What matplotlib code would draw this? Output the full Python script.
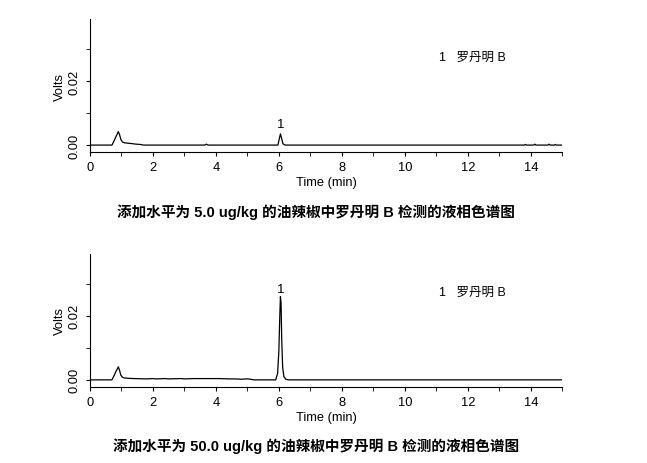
import matplotlib
matplotlib.use("Agg")
import matplotlib.pyplot as plt
from matplotlib.ticker import MultipleLocator

plt.rcParams["font.family"] = ["Liberation Sans", "Noto Sans CJK SC", "DejaVu Sans"]

# trace 1: 5.0 ug/kg spike
t_low = [0, 0.70, 0.76, 0.82, 0.87, 0.90, 0.94, 0.98, 1.03, 1.10, 1.20, 1.30, 1.45, 1.60, 1.70,
         3.65, 3.70, 3.75, 5.97, 6.01, 6.05, 6.09, 6.13, 6.20, 13.80, 13.83, 13.86,
         14.10, 14.13, 14.16, 14.55, 14.58, 14.62, 14.75, 14.78, 14.81, 15.0]
v_low = [0, 0, 0.0012, 0.0025, 0.0035, 0.0042, 0.0033, 0.0018, 0.0010, 0.0007, 0.0006, 0.0005,
         0.0003, 0.0002, 0, 0, 0.0003, 0, 0, 0.0018, 0.0035, 0.0020, 0.0004, 0,
         0, 0.0002, 0, 0, 0.0003, 0, 0, 0.0003, 0, 0, 0.0002, 0, 0]

# trace 2: 50.0 ug/kg spike
t_high = [0, 0.70, 0.76, 0.82, 0.87, 0.90, 0.94, 0.98, 1.03, 1.10, 1.20, 1.40, 1.80, 2.00, 2.10,
          2.40, 2.50, 2.90, 3.00, 3.30, 3.60, 3.90, 4.10, 4.40, 4.60, 4.80, 5.00, 5.10, 5.20,
          5.90, 5.96, 6.00, 6.03, 6.05, 6.07, 6.09, 6.12, 6.16, 6.22, 6.30, 15.0]
v_high = [0, 0, 0.0012, 0.0025, 0.0034, 0.0041, 0.0030, 0.0015, 0.0008, 0.0006, 0.0005, 0.0004,
          0.0003, 0.0004, 0.0003, 0.0004, 0.0003, 0.0004, 0.0003, 0.0004, 0.0004, 0.0004,
          0.0004, 0.0003, 0.0003, 0.0002, 0.0003, 0.0002, 0, 0, 0.0020, 0.0090, 0.0200,
          0.0260, 0.0240, 0.0130, 0.0040, 0.0010, 0.0002, 0, 0]

peak_time = 6.05
captions = ["添加水平为 5.0 ug/kg 的油辣椒中罗丹明 B 检测的液相色谱图",
            "添加水平为 50.0 ug/kg 的油辣椒中罗丹明 B 检测的液相色谱图"]
legend_text = "1   罗丹明 B"

fig = plt.figure(figsize=(6.47, 4.64), dpi=100)
ax1 = fig.add_axes([0.139, 0.670, 0.730, 0.287])
ax2 = fig.add_axes([0.139, 0.164, 0.730, 0.287])

mixed = ["Liberation Sans", "Noto Sans CJK SC", "DejaVu Sans"]

for ax, t, v, lbl_y, cap, cap_y in [(ax1, t_low, v_low, 0.0046, captions[0], 0.543),
                                     (ax2, t_high, v_high, 0.0264, captions[1], 0.038)]:
    ax.plot(t, v, color="black", lw=0.9)
    ax.set_xlim(0, 15)
    ax.set_ylim(-0.0022, 0.0394)
    ax.spines["top"].set_visible(False)
    ax.spines["right"].set_visible(False)
    ax.xaxis.set_major_locator(MultipleLocator(2))
    ax.xaxis.set_minor_locator(MultipleLocator(1))
    ax.yaxis.set_major_locator(MultipleLocator(0.02))
    ax.yaxis.set_minor_locator(MultipleLocator(0.01))
    ax.yaxis.set_major_formatter(plt.FormatStrFormatter("%.2f"))
    ax.tick_params(which="both", direction="out", length=3, labelsize=9.3)
    for lab in ax.get_yticklabels():
        lab.set_rotation(90)
        lab.set_va("center")
    ax.set_xlabel("Time (min)", fontsize=9.3, labelpad=2)
    ax.set_ylabel("Volts", fontsize=9.3, labelpad=2)
    ax.text(peak_time, lbl_y, "1", ha="center", va="bottom", fontsize=9.5)
    ax.text(11.1, 0.0276, legend_text, ha="left", va="center", fontsize=9, family=mixed)
    fig.text(0.488, cap_y, cap, ha="center", va="center", fontsize=10.5,
             fontweight="bold", family=mixed)

fig.savefig("out.png", dpi=100)
